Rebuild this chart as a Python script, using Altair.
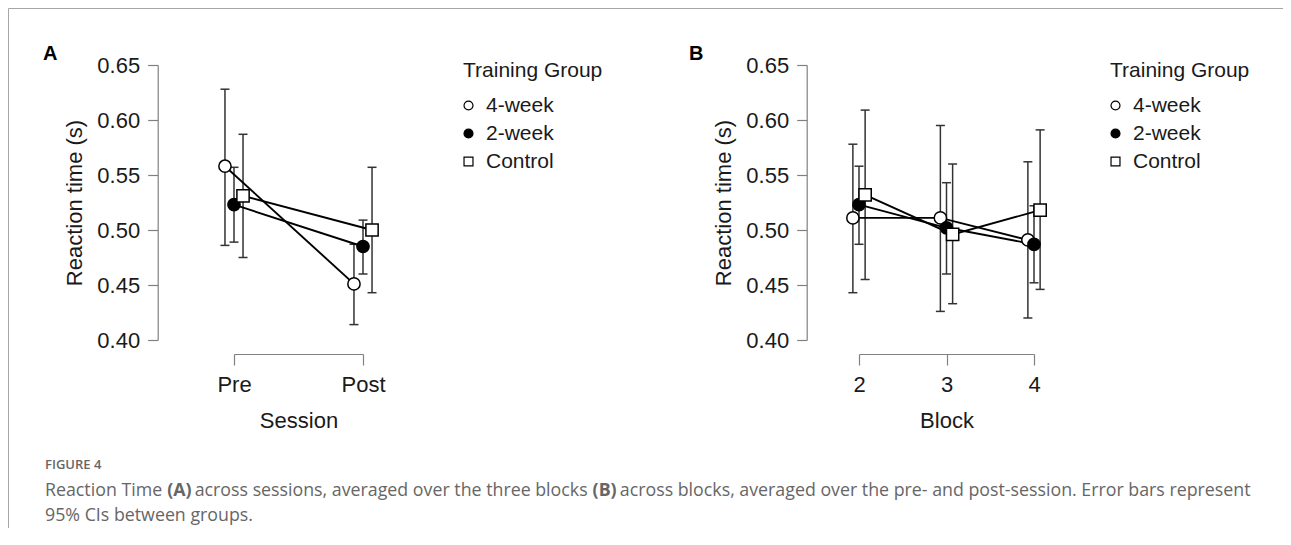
import altair as alt
import pandas as pd

GROUPS = ["4-week", "2-week", "Control"]

# ---------------- Panel A : sessions ----------------
session_labels = ["Pre", "Post"]
session_pos = [1, 2]
a_4wk_mean = [0.558, 0.451]
a_4wk_lo = [0.486, 0.414]
a_4wk_hi = [0.628, 0.487]
a_2wk_mean = [0.523, 0.485]
a_2wk_lo = [0.489, 0.460]
a_2wk_hi = [0.557, 0.509]
a_ctl_mean = [0.531, 0.500]
a_ctl_lo = [0.475, 0.443]
a_ctl_hi = [0.587, 0.557]

# ---------------- Panel B : blocks ----------------
block_pos = [2, 3, 4]
b_4wk_mean = [0.511, 0.511, 0.491]
b_4wk_lo = [0.443, 0.426, 0.420]
b_4wk_hi = [0.578, 0.595, 0.562]
b_2wk_mean = [0.523, 0.502, 0.487]
b_2wk_lo = [0.487, 0.460, 0.452]
b_2wk_hi = [0.558, 0.543, 0.522]
b_ctl_mean = [0.532, 0.496, 0.518]
b_ctl_lo = [0.455, 0.433, 0.446]
b_ctl_hi = [0.609, 0.560, 0.591]

y_ticks = [0.40, 0.45, 0.50, 0.55, 0.60, 0.65]


def long_table(pos, series):
    rows = []
    for g, (m, lo, hi) in zip(GROUPS, series):
        for p, mm, l, h in zip(pos, m, lo, hi):
            rows.append(dict(group=g, pos=p, mean=mm, lo=l, hi=h))
    return pd.DataFrame(rows)


df_a = long_table(session_pos, [(a_4wk_mean, a_4wk_lo, a_4wk_hi),
                                (a_2wk_mean, a_2wk_lo, a_2wk_hi),
                                (a_ctl_mean, a_ctl_lo, a_ctl_hi)])
df_b = long_table(block_pos, [(b_4wk_mean, b_4wk_lo, b_4wk_hi),
                              (b_2wk_mean, b_2wk_lo, b_2wk_hi),
                              (b_ctl_mean, b_ctl_lo, b_ctl_hi)])

FONT = "Liberation Sans"
TXT = "#1a1a1a"
AX = "#808080"
BAR = "#333333"
DODGE = "datum.pos + (datum.group === '4-week' ? -0.07 : (datum.group === 'Control' ? 0.07 : 0))"


def panel(df, domain, rng, values, label_expr, xtitle, yoffset, lx, ly):
    base = alt.Chart(df).transform_calculate(xd=DODGE)
    xax = alt.Axis(orient="bottom", offset=14, values=values, labelExpr=label_expr,
                   title=xtitle, grid=False, domainColor=AX, tickColor=AX,
                   domainWidth=1.2, tickWidth=1.2, tickSize=11, labelPadding=9,
                   labelFont=FONT, labelFontSize=22, labelColor=TXT,
                   labelFlush=False, labelOverlap=False,
                   titleFont=FONT, titleFontSize=22, titleFontWeight="normal",
                   titleColor=TXT, titlePadding=15)
    xsc = alt.Scale(domain=domain, range=rng, nice=False, zero=False)
    yax = alt.Axis(orient="left", offset=yoffset, values=y_ticks, format=".2f",
                   title="Reaction time (s)", grid=False, domainColor=AX, tickColor=AX,
                   domainWidth=1.2, tickWidth=1.2, tickSize=10, labelPadding=8,
                   labelFont=FONT, labelFontSize=22, labelColor=TXT,
                   labelFlush=False, labelOverlap=False,
                   titleFont=FONT, titleFontSize=22, titleFontWeight="normal",
                   titleColor=TXT, titlePadding=10)
    ysc = alt.Scale(domain=[0.40, 0.65], nice=False, zero=False)
    X = alt.X("xd:Q", scale=xsc, axis=xax)

    def Y(f):
        return alt.Y(f"{f}:Q", scale=ysc, axis=yax)

    bars = base.mark_rule(color=BAR, strokeWidth=1.5).encode(x=X, y=Y("lo"), y2="hi:Q")
    cap_lo = base.mark_tick(orient="horizontal", size=9, thickness=1.5, color=BAR,
                            opacity=1).encode(x=X, y=Y("lo"))
    cap_hi = base.mark_tick(orient="horizontal", size=9, thickness=1.5, color=BAR,
                            opacity=1).encode(x=X, y=Y("hi"))
    line = base.mark_line(color="black", strokeWidth=1.9).encode(
        x=X, y=Y("mean"), detail="group:N")
    leg = alt.Legend(title="Training Group", orient="none", legendX=lx, legendY=ly,
                     padding=0, titleFont=FONT, titleFontSize=21, titleFontWeight="normal",
                     titleColor=TXT, titlePadding=14, labelFont=FONT, labelFontSize=21,
                     labelColor=TXT, labelOffset=7, symbolOffset=-5, symbolSize=80,
                     symbolStrokeWidth=1.2, rowPadding=6)
    pts = base.mark_point(filled=True, strokeWidth=1.5, size=150, opacity=1).encode(
        x=X, y=Y("mean"),
        shape=alt.Shape("group:N", scale=alt.Scale(domain=GROUPS,
                                                   range=["circle", "circle", "square"]),
                        legend=leg),
        fill=alt.Fill("group:N", scale=alt.Scale(domain=GROUPS,
                                                 range=["white", "black", "white"]),
                      legend=leg),
        stroke=alt.Stroke("group:N", scale=alt.Scale(domain=GROUPS,
                                                     range=["black", "black", "black"]),
                          legend=leg),
    )
    return alt.layer(bars, cap_lo, cap_hi, line, pts)


panel_a = panel(df_a, [1, 2], [226, 355], session_pos,
                "datum.value == 1 ? 'Pre' : 'Post'", "Session", -149.7, 455, -5)
panel_b = panel(df_b, [2, 4], [851, 1026], block_pos,
                "format(datum.value, 'd')", "Block", -798.7, 1102, -5)


def text(txt, x, y, size, weight, color, font):
    return alt.Chart(pd.DataFrame({"t": [txt]})).mark_text(
        align="left", baseline="alphabetic", fontSize=size, fontWeight=weight,
        color=color, font=font).encode(x=alt.value(x), y=alt.value(y), text="t:N")


CAP = "#666666"
CF = "Open Sans"
CS = 17.8
lab_a = text("A", 35, -5, 20, "bold", "black", FONT)
lab_b = text("B", 681, -5, 20, "bold", "black", FONT)
fig4 = text("FIGURE 4", 37, 404, 13, 600, CAP, CF)
c1 = text("Reaction Time", 37, 431, CS, "normal", CAP, CF)
c2 = text("(A)", 159.2, 431, CS, "bold", CAP, CF)
c3 = text("across sessions, averaged over the three blocks", 186.7, 431, CS, "normal", CAP, CF)
c4 = text("(B)", 584.6, 431, CS, "bold", CAP, CF)
c5 = text("across blocks, averaged over the pre- and post-session. Error bars represent",
          611.8, 431, CS, "normal", CAP, CF)
c6 = text("95% CIs between groups.", 37, 456, CS, "normal", CAP, CF)

border = alt.Chart(pd.DataFrame({"k": [0]}))
top_line = border.mark_rule(color="#a6a6a6", strokeWidth=1).encode(
    x=alt.value(0.5), x2=alt.value(1275), y=alt.value(-56.5), y2=alt.value(-56.5))
left_line = border.mark_rule(color="#a6a6a6", strokeWidth=1).encode(
    x=alt.value(0.5), x2=alt.value(0.5), y=alt.value(-56.5), y2=alt.value(463))

chart = alt.layer(
    panel_a, panel_b, lab_a, lab_b, fig4, c1, c2, c3, c4, c5, c6, top_line, left_line
).resolve_scale(
    x="independent", y="independent", shape="independent", fill="independent",
    stroke="independent"
).resolve_legend(
    shape="independent", fill="independent", stroke="independent"
).properties(
    width=1275, height=275,
    autosize=alt.AutoSizeParams(type="none"),
    padding={"left": 0, "top": 57, "right": 0, "bottom": 188},
).configure_view(stroke=None)

chart.save("out.html", embed_options={"renderer": "svg", "actions": False})
